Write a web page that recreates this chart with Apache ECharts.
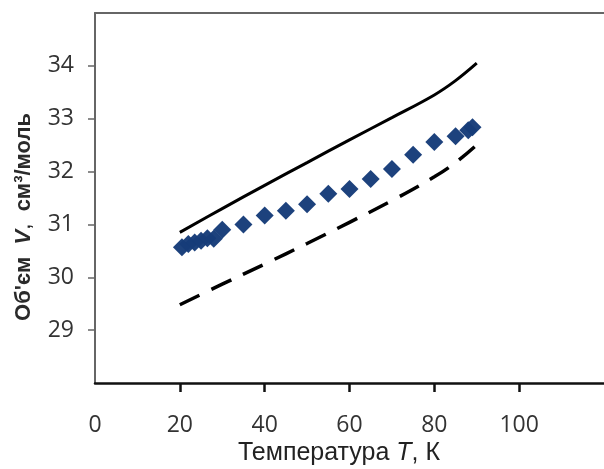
<!DOCTYPE html>
<html>
<head>
<meta charset="utf-8">
<script src="https://cdn.jsdelivr.net/npm/echarts@6/dist/echarts.min.js"></script>
<style>html,body{margin:0;padding:0;background:#fff}#c{width:604px;height:469px}</style>
</head>
<body>
<div id="c"></div>
<script>
// Experimental points (diamonds)
const expT = [20.5, 22, 23.5, 25, 26.5, 28, 30, 35, 40, 45, 50, 55, 60, 65, 70, 75, 80, 85, 88, 89];
const expV = [30.57, 30.63, 30.66, 30.69, 30.74, 30.73, 30.9, 31.0, 31.17, 31.26, 31.38, 31.58, 31.67, 31.86, 32.05, 32.32, 32.56, 32.67, 32.78, 32.84];
// Solid curve
const solidT = [20, 30, 40, 50, 60, 70, 80, 85, 90];
const solidV = [30.85, 31.3, 31.74, 32.17, 32.6, 33.02, 33.45, 33.72, 34.05];
// Dashed curve
const dashT = [20, 30, 40, 50, 60, 70, 80, 85, 89.5];
const dashV = [29.48, 29.87, 30.25, 30.64, 31.04, 31.45, 31.9, 32.17, 32.47];
// Ticks
const xTicks = [20, 40, 60, 80, 100];
const xLabels = [0, 20, 40, 60, 80, 100];
const yTicks = [29, 30, 31, 32, 33, 34];

const zip = (a, b) => a.map((v, i) => [v, b[i]]);
const chart = echarts.init(document.getElementById('c'), null, {renderer: 'canvas'});
const labelFont = {fontFamily: 'Open Sans', fontSize: 23, color: '#333'};
chart.setOption({
  animation: false,
  backgroundColor: '#fff',
  grid: {left: 95, right: 0, top: 13, bottom: 86},
  xAxis: [{
    type: 'value', min: 0, max: 120, interval: 20,
    splitLine: {show: false},
    axisLine: {lineStyle: {color: '#111', width: 2.5}},
    axisTick: {customValues: xTicks, length: 9, lineStyle: {color: '#111', width: 2.5}},
    axisLabel: Object.assign({customValues: xLabels, margin: 31}, labelFont)
  }, {
    type: 'value', min: 0, max: 120, position: 'top',
    splitLine: {show: false},
    axisLine: {lineStyle: {color: '#666', width: 2}},
    axisTick: {show: false}, axisLabel: {show: false}
  }],
  yAxis: {
    type: 'value', min: 28, max: 35, interval: 1,
    splitLine: {show: false},
    axisLine: {lineStyle: {color: '#666', width: 2}},
    axisTick: {customValues: yTicks, length: 7, lineStyle: {color: '#666', width: 1.5}},
    axisLabel: Object.assign({customValues: yTicks, margin: 21}, labelFont)
  },
  graphic: [{
    type: 'text', x: 339, y: 453,
    style: {
      text: '{n|Температура }{i|T}{n|, К}',
      textAlign: 'center', textVerticalAlign: 'middle',
      rich: {
        n: {fontFamily: 'Liberation Sans', fontSize: 25, fill: '#222'},
        i: {fontFamily: 'Liberation Sans', fontSize: 25, fontStyle: 'italic', fill: '#222'}
      }
    }
  }, {
    type: 'text', x: 24, y: 217, rotation: Math.PI / 2,
    style: {
      text: "{n|Об'єм  }{i|V},{n|  см³/моль}",
      textAlign: 'center', textVerticalAlign: 'middle',
      fontFamily: 'Liberation Sans', fontSize: 22, fill: '#222',
      rich: {
        n: {fontFamily: 'Liberation Sans', fontSize: 22, fontWeight: 'bold', fill: '#2a2a2a'},
        i: {fontFamily: 'Liberation Sans', fontSize: 22, fontWeight: 'bold', fontStyle: 'italic', fill: '#2a2a2a'}
      }
    }
  }],
  series: [{
    type: 'line', data: zip(solidT, solidV), smooth: 0.4, showSymbol: false,
    lineStyle: {color: '#000', width: 3}
  }, {
    type: 'line', data: zip(dashT, dashV), smooth: 0.4, showSymbol: false,
    lineStyle: {color: '#000', width: 3.5, type: [22, 13]}
  }, {
    type: 'scatter', data: zip(expT, expV), symbol: 'diamond', symbolSize: [18, 18],
    itemStyle: {color: '#163c79', opacity: 0.97}
  }]
});
</script>
</body>
</html>
